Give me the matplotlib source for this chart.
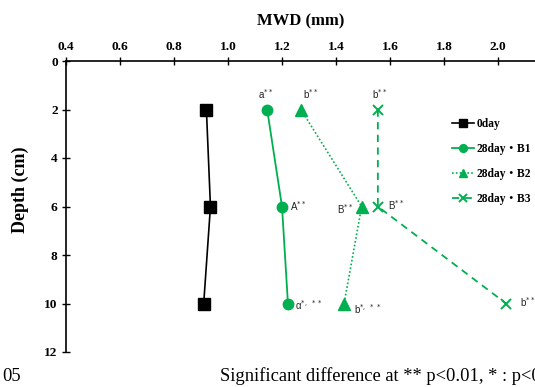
import matplotlib
matplotlib.use("Agg")
import matplotlib.pyplot as plt

# Mean weight diameter (mm) by soil depth (cm)
depth = [2, 6, 10]
mwd_0day = [0.92, 0.935, 0.91]
mwd_b1 = [1.145, 1.20, 1.222]
mwd_b2 = [1.27, 1.495, 1.43]
mwd_b3 = [1.555, 1.555, 2.03]

series_labels = ["0day", "28day\u30fbB1", "28day\u30fbB2", "28day\u30fbB3"]
x_ticks = [0.4, 0.6, 0.8, 1.0, 1.2, 1.4, 1.6, 1.8, 2.0]
y_ticks = [0, 2, 4, 6, 8, 10, 12]

GREEN = "#00b050"

W, H = 535, 387
fig = plt.figure(figsize=(W / 100, H / 100), dpi=100)
x0, x1 = 66, 535
y0, y1 = 61, 352
ax = fig.add_axes([x0 / W, 1 - y1 / H, (x1 - x0) / W, (y1 - y0) / H])

xmax = 0.4 + (x1 - x0) / 270.0
ax.set_xlim(0.4, xmax)
ax.set_ylim(12, 0)

serif = "Liberation Serif"
sans = "Liberation Sans"

ax.plot(mwd_0day, depth, color="black", lw=1.2, marker="s", ms=8,
        label=series_labels[0])
ax.plot(mwd_b1, depth, color=GREEN, lw=1.3, marker="o", ms=7.5,
        label=series_labels[1])
ax.plot(mwd_b2, depth, color=GREEN, lw=1.2, ls=(0, (1, 1.3)), marker="^", ms=8.5,
        label=series_labels[2])
ax.plot(mwd_b3, depth, color=GREEN, lw=1.3, ls=(0, (4, 3)), marker="x", ms=7.5,
        mew=1.4, label=series_labels[3])

# axes styling: x axis on top, only top and left spines
ax.xaxis.tick_top()
ax.xaxis.set_label_position("top")
for side in ("right", "bottom"):
    ax.spines[side].set_visible(False)
for side in ("top", "left"):
    ax.spines[side].set_linewidth(1.2)
ax.set_xticks(x_ticks)
ax.set_xticklabels([f"{v:.1f}" for v in x_ticks])
ax.set_yticks(y_ticks)
ax.set_yticklabels([str(v) for v in y_ticks])
ax.tick_params(axis="both", direction="inout", length=6, width=1.0, pad=3)
for lab in ax.get_xticklabels() + ax.get_yticklabels():
    lab.set_fontfamily(serif)
    lab.set_fontweight("bold")
    lab.set_fontsize(9.6)

ax.set_xlabel("MWD (mm)", fontfamily=serif, fontweight="bold", fontsize=12, labelpad=11)
fig.text(20 / W, 1 - 190 / H, "Depth (cm)", fontfamily=serif, fontweight="bold",
         fontsize=13, rotation=90, ha="center", va="center")

# significance letters
ann_kw = dict(fontfamily=sans, fontsize=7, color="#222222")
notes = [
    (mwd_b1, 0, "a$^{**}$", (-1, 6), "center", "bottom"),
    (mwd_b2, 0, "b$^{**}$", (7, 6), "center", "bottom"),
    (mwd_b3, 0, "b$^{**}$", (1, 6), "center", "bottom"),
    (mwd_b1, 1, "A$^{**}$", (6, 0), "left", "center"),
    (mwd_b2, 1, "B$^{**}$", (-6, -2), "right", "center"),
    (mwd_b3, 1, "B$^{**}$", (7, 1), "left", "center"),
    (mwd_b1, 2, "\u03b1$^{*,\\ **}$", (5, -1), "left", "center"),
    (mwd_b2, 2, "b$^{*,\\ **}$", (7, -4), "left", "center"),
    (mwd_b3, 2, "b$^{**}$", (10, 1), "left", "center"),
]
for vals, i, txt, off, ha, va in notes:
    ax.annotate(txt, (vals[i], depth[i]), xytext=off, textcoords="offset points",
                ha=ha, va=va, **ann_kw)

leg = ax.legend(loc="upper left",
                bbox_to_anchor=((447 - x0) / (x1 - x0), 1 - (113 - y0) / (y1 - y0)),
                frameon=False, handlelength=1.9, handletextpad=0.3, labelspacing=1.15,
                borderaxespad=0, markerscale=0.75,
                prop={"family": [serif, "Noto Sans CJK JP"], "weight": "bold", "size": 8.3})

fig.text(2 / W, 1 - 381 / H, "05", fontfamily=serif, fontsize=13.3, va="baseline")
fig.text(220 / W, 1 - 381 / H, "Significant difference at ** p<0.01, * : p<0.05",
         fontfamily=serif, fontsize=13.3, va="baseline")

fig.savefig("out.png", dpi=100)
